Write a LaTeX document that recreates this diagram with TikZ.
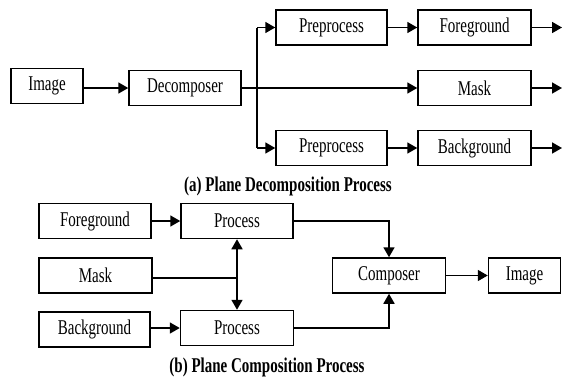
\documentclass[tikz,border=0pt]{standalone}
\usepackage{fontspec}
\setmainfont{Liberation Serif}
\usetikzlibrary{arrows.meta}
\newcommand{\tallt}[1]{\scalebox{1}[1.4]{#1}}
\begin{document}
\begin{tikzpicture}[x=1pt,y=-1pt,
  box/.style={draw,line width=1.5pt,minimum height=35pt,inner sep=0pt,font=\fontsize{15}{18}\selectfont},
  line/.style={line width=1.7pt},
  arr/.style={line width=1.7pt,-{Triangle[length=10pt,width=11pt]}},
  darr/.style={line width=1.7pt,{Triangle[length=10pt,width=11pt]}-{Triangle[length=10pt,width=11pt]}},
  captext/.style={font=\fontsize{15}{18}\selectfont\bfseries}]
\useasboundingbox (0,0) rectangle (562,378);
% (a) decomposition
\node[box,minimum width=72pt] (img1) at (47,86) {\tallt{Image}};
\node[box,minimum width=112pt] (dec) at (185,88) {\tallt{Decomposer}};
\node[box,minimum width=111pt] (pre1) at (331.5,27.5) {\tallt{Preprocess}};
\node[box,minimum width=113pt] (fg1) at (474.5,27.5) {\tallt{Foreground}};
\node[box,minimum width=113pt] (mask1) at (474.5,88) {\tallt{Mask}};
\node[box,minimum width=111pt] (pre2) at (331.5,148) {\tallt{Preprocess}};
\node[box,minimum width=113pt] (bg1) at (474.5,148) {\tallt{Background}};
\coordinate (br) at (257,88);
\coordinate (o1) at (562,27.5);
\coordinate (o2) at (562,88);
\coordinate (o3) at (562,148);
\draw[arr] (img1.east |- dec) -- (dec.west);
\draw[arr] (dec.east) -- (mask1.west);
\draw[line] (br |- pre1) -- (br |- pre2);
\draw[arr] (br |- pre1) -- (pre1.west);
\draw[arr] (br |- pre2) -- (pre2.west);
\draw[arr] (pre1) -- (fg1);
\draw[arr] (pre2) -- (bg1);
\draw[arr] (fg1.east) -- (o1);
\draw[arr] (mask1.east) -- (o2);
\draw[arr] (bg1.east) -- (o3);
\node[captext] (capa) at (288,186) {\tallt{(a) Plane Decomposition Process}};
% (b) composition
\node[box,minimum width=112pt] (fg2) at (95,221) {\tallt{Foreground}};
\node[box,minimum width=112pt] (proc1) at (237,221) {\tallt{Process}};
\node[box,minimum width=113pt] (mask2) at (95.5,275.5) {\tallt{Mask}};
\node[box,minimum width=111pt] (bg2) at (94.5,329.5) {\tallt{Background}};
\node[box,minimum width=113pt] (proc2) at (237,328) {\tallt{Process}};
\node[box,minimum width=113pt] (comp) at (389,275.5) {\tallt{Composer}};
\node[box,minimum width=72pt] (img2) at (524.5,275.5) {\tallt{Image}};
\coordinate (mj) at (237,278);
\draw[arr] (fg2) -- (proc1);
\draw[arr] (bg2.east |- proc2) -- (proc2.west);
\draw[darr] (proc1.south) -- (proc2.north);
\draw[line] (mask2.east |- mj) -- (mj);
\draw[arr] (proc1.east) -| (comp.north);
\draw[arr] (proc2.east) -| (comp.south);
\draw[arr] (comp) -- (img2);
\node[captext] (capb) at (267,367) {\tallt{(b) Plane Composition Process}};
\end{tikzpicture}
\end{document}
